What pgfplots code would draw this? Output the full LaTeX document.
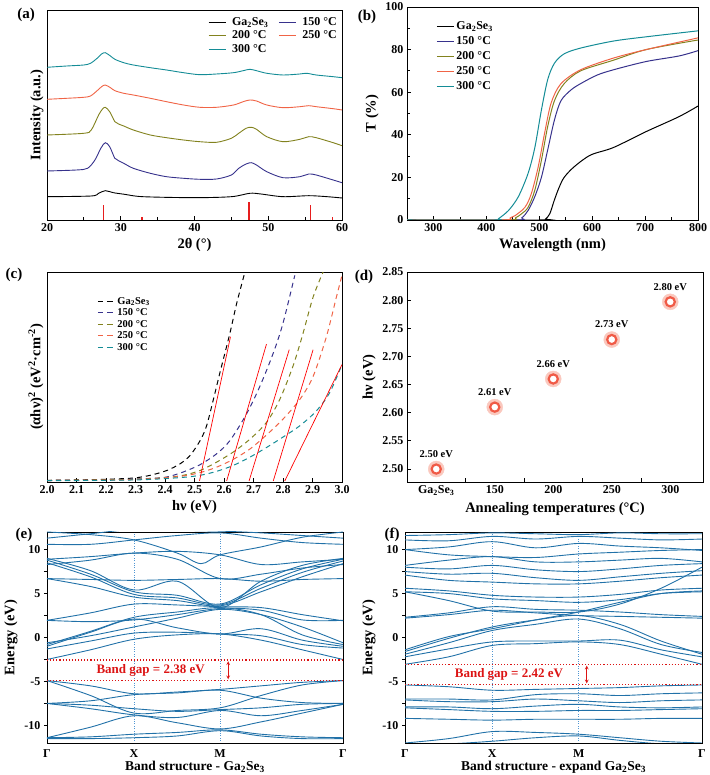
\documentclass[border=0pt]{standalone}
\usepackage{fontspec}
\setmainfont{Liberation Serif}
\usepackage{pgfplots}
\pgfplotsset{compat=1.18}

\definecolor{cnavy}{RGB}{55,50,140}
\definecolor{colive}{RGB}{130,130,30}
\definecolor{corange}{RGB}{240,100,70}
\definecolor{cteal}{RGB}{20,140,150}
\definecolor{cstick}{RGB}{230,30,30}
\definecolor{bandblue}{RGB}{33,113,168}
\definecolor{kline}{RGB}{80,150,210}
\definecolor{gapred}{RGB}{220,20,20}
\definecolor{ringred}{RGB}{240,90,70}
\definecolor{halo}{RGB}{250,200,190}

\pgfplotsset{
  base/.style={
    scale only axis, anchor=south west,
    axis line style={line width=0.9pt},
    every tick/.style={black, line width=0.8pt},
    tick align=inside, xtick pos=bottom, ytick pos=left,
    major tick length=4pt, minor tick length=2.5pt,
    tick label style={font=\bfseries\fontsize{12}{14}\selectfont},
    label style={font=\bfseries\fontsize{14.5}{16}\selectfont},
    /pgf/number format/assume math mode=true,
    legend style={draw=none, fill=none, font=\bfseries\fontsize{12}{14}\selectfont},
    legend cell align=left,
  },
  xrd/.style={line width=0.9pt, smooth, no marks},
  tr/.style={line width=1pt, smooth, no marks},
  tauc/.style={line width=1pt, smooth, no marks, dash pattern=on 5pt off 4pt},
  tang/.style={line width=0.7pt, red, no marks},
  band/.style={line width=0.9pt, bandblue, smooth, tension=0.55, no marks},
  bandaxis/.style={
    base, xmin=0, xmax=1, ymin=-12, ymax=12,
    xtick={0,0.294,0.585,1}, xticklabels={Γ,X,M,Γ},
    major x tick style={draw=none},
    xmajorgrids, major grid style={dotted, kline, line width=0.9pt},
    ytick={-10,-5,0,5,10}, minor y tick num=1, tick align=outside,
    minor tick length=3pt, major tick length=3pt,
    ylabel={Energy (eV)}, clip=true,
    xlabel style={yshift=3pt, font=\bfseries\fontsize{13.5}{15}\selectfont},
  },
}

\begin{document}
\begin{tikzpicture}
\useasboundingbox (0pt,0pt) rectangle (709pt,775pt);

% (a) XRD
\begin{axis}[base, at={(47pt,555pt)}, width=295pt, height=210pt,
  xmin=20, xmax=60, ymin=0, ymax=210,
  xtick={20,30,40,50,60}, minor xtick={25,35,45,55}, ytick=\empty,
  xlabel={2θ (°)}, ylabel={Intensity (a.u.)},
  legend columns=2,
  legend style={at={(1.0,0.985)}, anchor=north east, /tikz/column sep=4pt, /tikz/every even column/.append style={column sep=8pt}}]
\addplot[xrd, black] coordinates {(20,23.3) (26,24) (27,26.7) (27.9,29.3) (29,27.3) (30.5,25.7) (33,23.3) (40,22.3) (45,23.3) (47.5,26.7) (49,26) (52,23.3) (55.5,24.3) (58,23.3) (60,22)};
\addlegendentry{Ga\textsubscript{2}Se\textsubscript{3}}
\addplot[xrd, cnavy] coordinates {(20,49) (24,50) (25.5,51.7) (26.5,60) (27.3,71.7) (27.9,77.3) (28.5,73.3) (29.2,61.7) (29.7,59.3) (30.4,56.7) (31.7,51.7) (34,46.7) (36.2,43.3) (38.5,41.7) (40.7,40.7) (43,41) (45,45) (46,51.7) (47,56) (47.7,57.3) (48.4,55) (49.8,48.3) (52,42.3) (54.3,43.3) (55.5,46) (56.5,45) (58.8,40) (60,37.3)};
\addlegendentry{150~°C}
\addplot[xrd, colive] coordinates {(20,85) (25,86.7) (26,90) (27,105) (27.5,110.7) (27.9,112.7) (28.5,108.3) (29.2,98.3) (29.7,96) (30.4,94) (31.7,90) (34,85) (36.2,82.3) (38.5,80) (40.7,78.3) (43,77.7) (45,81.7) (46,86.7) (47,91.7) (47.7,92.7) (48.4,90.7) (49.8,83.3) (52,78.3) (54.3,80.7) (55.5,83.3) (56.5,82.3) (58.8,77.3) (60,74.3)};
\addlegendentry{200~°C}
\addplot[xrd, corange] coordinates {(20,120.7) (22.7,121.7) (25,122.7) (25.9,124) (26.8,129.3) (27.4,133.3) (27.9,135) (28.6,132.3) (29.2,129.3) (30.4,126.7) (31.7,125) (34,121.7) (36.2,118.3) (38.5,115) (40.7,112.7) (43,112.7) (45.3,115) (46.6,118.3) (47.5,120) (48.4,119) (49.8,115) (52,112.3) (54.3,113.3) (55.5,114.3) (56.5,113.3) (58.8,111.3) (60,110)};
\addlegendentry{250~°C}
\addplot[xrd, cteal] coordinates {(20,152.7) (22.7,154) (25,155) (25.9,156.7) (26.8,161.7) (27.4,166) (27.9,167.3) (28.6,164) (29.2,160.7) (30.4,157.3) (31.7,155) (34,152.3) (36.2,150) (38.5,147.3) (40.7,145.3) (43,146) (45.3,147.3) (46.6,149.3) (47.5,150.7) (48.4,149.3) (49.8,146.7) (52,145) (54.3,146) (55.2,146.7) (56.5,145) (58.8,143.3) (60,142.3)};
\addlegendentry{300~°C}
\addplot[ycomb, cstick, line width=1.3pt, no marks, forget plot] coordinates {(27.7,15) (32.9,2.5) (47.4,18) (55.7,15) (58.7,2.5)};
\end{axis}

% (b) transmittance
\begin{axis}[base, at={(407pt,555pt)}, width=291pt, height=213pt,
  xmin=250, xmax=800, ymin=0, ymax=100,
  xtick={300,400,...,800}, minor x tick num=1,
  ytick={0,20,...,100}, minor y tick num=1,
  xlabel={Wavelength (nm)}, ylabel={T (\%)},
  legend style={at={(0.09,0.95)}, anchor=north west, row sep=1.5pt}]
\addplot[tr, black] coordinates {(250,0) (505,0) (512,0.5) (520,3) (528,9) (537,15) (547,20) (566,25) (597,30.5) (640,34) (702,41.5) (764,48.5) (800,53.5)};
\addlegendentry{Ga\textsubscript{2}Se\textsubscript{3}}
\addplot[tr, cnavy] coordinates {(250,0) (455,0) (467,1) (479,4.5) (491.6,11) (504,20) (516,33) (528.7,47) (541,56) (559.7,61) (578,64) (609,68) (640,70.5) (702,74.4) (764,77) (800,79.5)};
\addlegendentry{150~°C}
\addplot[tr, colive] coordinates {(250,0) (440,0) (455,1) (467,3) (479,6) (491.6,14) (504,28) (516,44) (528.7,56) (547,64) (578,70) (640,75) (702,80) (800,84.5)};
\addlegendentry{200~°C}
\addplot[tr, corange] coordinates {(250,0) (430,0) (445,1) (454,2) (473,6) (485,12.4) (498,25) (510,40.7) (522.5,55) (541,64) (578,70.5) (640,76) (702,80) (800,85.5)};
\addlegendentry{250~°C}
\addplot[tr, cteal] coordinates {(250,0) (418,0) (423,0.6) (442,4.5) (460.6,11) (479,22) (491.6,34) (504,51.6) (516,66) (528.7,73.6) (547,78) (578,80.7) (640,84) (702,86) (800,88.8)};
\addlegendentry{300~°C}
\end{axis}

% (c) Tauc plot
\begin{axis}[base, at={(47pt,293pt)}, width=295pt, height=210pt,
  xmin=2.0, xmax=3.0, ymin=-0.5, ymax=100,
  xtick={2.0,2.1,2.2,2.3,2.4,2.5,2.6,2.7,2.8,2.9,3.0}, ytick=\empty,
  x tick label style={/pgf/number format/.cd, fixed, fixed zerofill, precision=1},
  xlabel={hν (eV)}, ylabel={(αhν)\textsuperscript{2} (eV\textsuperscript{2}·cm\textsuperscript{-2})},
  legend style={at={(0.16,0.9)}, anchor=north west, font=\bfseries\fontsize{10.5}{11}\selectfont, row sep=-1pt}]
\addplot[tauc, black] coordinates {(2.0,0.3) (2.1,0.5) (2.2,0.8) (2.293,1.4) (2.35,2.7) (2.406,5) (2.451,8.2) (2.485,12.2) (2.519,19.3) (2.541,26.4) (2.564,39) (2.586,51.7) (2.62,70.7) (2.643,85) (2.671,100)};
\addlegendentry{Ga\textsubscript{2}Se\textsubscript{3}}
\addplot[tauc, cnavy] coordinates {(2.0,0.2) (2.2,0.5) (2.35,1.2) (2.406,1.9) (2.462,4.3) (2.519,7.8) (2.575,13) (2.62,19.3) (2.676,32) (2.722,45.4) (2.767,61.2) (2.8,75.5) (2.84,98.4)};
\addlegendentry{150~°C}
\addplot[tauc, colive] coordinates {(2.0,0.2) (2.3,0.8) (2.4,1.6) (2.462,2.7) (2.519,5) (2.575,9) (2.631,13.8) (2.688,20) (2.744,28) (2.789,39) (2.834,55) (2.868,70.7) (2.902,88) (2.936,100)};
\addlegendentry{200~°C}
\addplot[tauc, corange] coordinates {(2.0,0.2) (2.3,0.7) (2.45,2.2) (2.519,4) (2.575,6.6) (2.631,10.3) (2.688,15.3) (2.744,22) (2.8,29.6) (2.857,39) (2.902,50) (2.947,69) (2.981,88) (3.0,98.4)};
\addlegendentry{250~°C}
\addplot[tauc, cteal] coordinates {(2.0,0.1) (2.3,0.5) (2.45,1.6) (2.519,2.7) (2.575,4.6) (2.631,7.4) (2.688,11.4) (2.744,16) (2.8,21) (2.857,26.4) (2.913,33.5) (2.958,42.2) (3.0,55.7)};
\addlegendentry{300~°C}
\addplot[tang] coordinates {(2.517,0) (2.622,69)};
\addplot[tang] coordinates {(2.609,0) (2.744,65.5)};
\addplot[tang] coordinates {(2.685,0) (2.821,62.8)};
\addplot[tang] coordinates {(2.767,0) (2.902,62.8)};
\addplot[tang] coordinates {(2.806,0) (3.0,55.7)};
\end{axis}

% (d) band gap vs temperature
\begin{axis}[base, at={(407pt,293pt)}, width=296pt, height=210pt,
  xmin=-0.5, xmax=4.56, ymin=2.477, ymax=2.85,
  xtick={0,1,2,3,4}, xticklabels={Ga\textsubscript{2}Se\textsubscript{3},150,200,250,300},
  major x tick style={draw=none}, minor xtick={0.5,1.5,2.5,3.5}, minor tick length=4pt,
  ytick={2.50,2.55,2.60,2.65,2.70,2.75,2.80,2.85},
  y tick label style={/pgf/number format/.cd, fixed, fixed zerofill, precision=2},
  xlabel={Annealing temperatures (°C)}, ylabel={hν (eV)}]
\addplot[only marks, mark=*, mark size=8pt, color=halo] coordinates {(0,2.50) (1,2.61) (2,2.66) (3,2.73) (4,2.797)};
\addplot[only marks, mark=*, mark size=4.6pt, mark options={draw=ringred, fill=white, line width=2.2pt},
  point meta=explicit symbolic, nodes near coords,
  every node near coord/.append style={anchor=center, yshift=15pt, font=\bfseries\fontsize{10.5}{12}\selectfont, black}]
  coordinates {(0,2.50) [2.50 eV] (1,2.61) [2.61 eV] (2,2.66) [2.66 eV] (3,2.73) [2.73 eV] (4,2.797) [2.80 eV]};
\end{axis}

% (e) band structure Ga2Se3
\begin{axis}[bandaxis, at={(47pt,32pt)}, width=296pt, height=211pt,
  xlabel={Band structure - Ga\textsubscript{2}Se\textsubscript{3}}]
\addplot[band] coordinates {(0,-4.9) (0.147,-5.5) (0.294,-6.4) (0.44,-6.2) (0.585,-5.9) (0.723,-5.5) (0.862,-5.1) (1,-4.9)};
\addplot[band] coordinates {(0,-4.9) (0.147,-6.6) (0.294,-8.6) (0.44,-8.3) (0.585,-8.0) (0.723,-6.6) (0.862,-5.4) (1,-4.9)};
\addplot[band] coordinates {(0,-7.5) (0.147,-7.2) (0.294,-6.5) (0.44,-6.3) (0.585,-6.0) (0.723,-6.9) (0.862,-7.4) (1,-7.5)};
\addplot[band] coordinates {(0,-7.5) (0.147,-7.7) (0.294,-8.1) (0.44,-8.4) (0.585,-8.2) (0.723,-8.0) (0.862,-7.6) (1,-7.5)};
\addplot[band] coordinates {(0,-7.5) (0.147,-8.1) (0.294,-8.8) (0.44,-9.1) (0.585,-8.3) (0.723,-8.9) (0.862,-8.3) (1,-7.6)};
\addplot[band] coordinates {(0,-11.4) (0.147,-10.2) (0.294,-8.9) (0.44,-9.7) (0.585,-10.4) (0.723,-9.6) (0.862,-8.6) (1,-7.6)};
\addplot[band] coordinates {(0,-11.4) (0.147,-11.3) (0.294,-11.0) (0.44,-10.8) (0.585,-10.5) (0.723,-11.0) (0.862,-11.3) (1,-11.4)};
\addplot[band] coordinates {(0,-11.5) (0.147,-11.5) (0.294,-11.4) (0.44,-11.2) (0.585,-10.6) (0.723,-11.2) (0.862,-11.5) (1,-11.5)};
\addplot[band] coordinates {(0,-2.5) (0.147,-1.4) (0.294,-0.2) (0.44,0.3) (0.585,0.4) (0.723,-0.3) (0.862,-1.4) (1,-2.5)};
\addplot[band] coordinates {(0,-1.3) (0.147,-0.4) (0.294,0.5) (0.44,0.6) (0.585,0.4) (0.723,0.2) (0.862,-0.8) (1,-1.2)};
\addplot[band] coordinates {(0,-1.0) (0.147,0.6) (0.294,2.1) (0.44,1.1) (0.585,0.4) (0.723,1.0) (0.862,-0.3) (1,-1.0)};
\addplot[band] coordinates {(0,-0.8) (0.147,0.7) (0.294,2.3) (0.44,2.9) (0.585,3.4) (0.723,2.6) (0.862,0.3) (1,-0.8)};
\addplot[band] coordinates {(0,1.95) (0.147,1.8) (0.294,2.0) (0.44,2.6) (0.585,3.3) (0.723,3.1) (0.862,2.0) (1,1.95)};
\addplot[band] coordinates {(0,1.95) (0.147,2.8) (0.294,3.8) (0.44,3.7) (0.585,3.5) (0.723,3.4) (0.862,2.6) (1,1.9)};
\addplot[band] coordinates {(0,-0.6) (0.147,0.2) (0.294,1.2) (0.44,2.2) (0.585,3.2) (0.723,2.6) (0.862,1.2) (1,-0.6)};
\addplot[band] coordinates {(0,6.7) (0.147,5.8) (0.294,4.6) (0.44,4.2) (0.585,3.6) (0.723,5.2) (0.862,6.9) (1,8.4)};
\addplot[band] coordinates {(0,8.5) (0.147,6.9) (0.294,4.9) (0.44,4.5) (0.585,3.7) (0.723,5.6) (0.862,7.4) (1,8.7)};
\addplot[band] coordinates {(0,8.8) (0.147,7.2) (0.294,5.2) (0.44,4.8) (0.585,3.8) (0.723,6.0) (0.862,7.8) (1,8.9)};
\addplot[band] coordinates {(0,9.0) (0.147,7.6) (0.294,5.4) (0.44,6.4) (0.585,3.4) (0.723,6.4) (0.862,8.2) (1,9.0)};
\addplot[band] coordinates {(0,6.7) (0.147,6.6) (0.294,6.5) (0.44,6.6) (0.585,6.7) (0.723,6.4) (0.862,6.6) (1,6.7)};
\addplot[band] coordinates {(0,8.3) (0.147,8.8) (0.294,9.6) (0.44,8.9) (0.585,6.7) (0.723,7.2) (0.862,7.9) (1,8.3)};
\addplot[band] coordinates {(0,8.9) (0.147,9.2) (0.294,9.6) (0.44,9.8) (0.585,9.4) (0.723,8.3) (0.862,8.6) (1,8.9)};
\addplot[band] coordinates {(0,10.6) (0.147,10.6) (0.294,11.1) (0.44,11.6) (0.585,11.9) (0.723,11.3) (0.862,10.8) (1,10.6)};
\addplot[band] coordinates {(0,12.0) (0.147,11.7) (0.294,11.1) (0.44,9.6) (0.52,8.4) (0.585,9.4) (0.723,10.3) (0.862,11.4) (1,12.0)};
\addplot[band] coordinates {(0,11.3) (0.147,11.8) (0.294,12.3) (0.44,12.2) (0.585,12.1) (0.723,11.9) (0.862,11.6) (1,11.3)};
\addplot[gapred, dotted, line width=1.1pt] coordinates {(0,-2.56) (1,-2.56)};
\addplot[gapred, dotted, line width=1.1pt] coordinates {(0,-4.9) (1,-4.9)};
\draw[gapred, <->, >=stealth, line width=0.7pt] (axis cs:0.612,-2.7) -- (axis cs:0.612,-4.75);
\node[gapred, font=\bfseries\fontsize{13}{15}\selectfont] at (axis cs:0.35,-3.73) {Band gap = 2.38 eV};
\end{axis}

% (f) band structure expanded Ga2Se3
\begin{axis}[bandaxis, at={(405pt,32pt)}, width=297pt, height=211pt,
  xlabel={Band structure - expand Ga\textsubscript{2}Se\textsubscript{3}}]
\addplot[band] coordinates {(0,-5.4) (0.147,-5.6) (0.294,-6.0) (0.44,-5.9) (0.585,-5.8) (0.723,-5.7) (0.862,-5.5) (1,-5.4)};
\addplot[band] coordinates {(0,-7.0) (0.147,-7.0) (0.294,-7.1) (0.44,-6.5) (0.585,-6.4) (0.723,-6.6) (0.862,-6.4) (1,-6.3)};
\addplot[band] coordinates {(0,-7.1) (0.147,-7.3) (0.294,-7.3) (0.44,-7.0) (0.585,-7.2) (0.723,-7.4) (0.862,-7.2) (1,-7.1)};
\addplot[band] coordinates {(0,-7.9) (0.147,-7.9) (0.294,-8.1) (0.44,-7.8) (0.585,-7.6) (0.723,-7.9) (0.862,-8.0) (1,-7.9)};
\addplot[band] coordinates {(0,-8.0) (0.147,-8.2) (0.294,-8.4) (0.44,-8.4) (0.585,-8.3) (0.723,-8.3) (0.862,-8.2) (1,-8.1)};
\addplot[band] coordinates {(0,-9.2) (0.147,-9.3) (0.294,-9.4) (0.44,-9.3) (0.585,-9.3) (0.723,-9.3) (0.862,-9.2) (1,-9.2)};
\addplot[band] coordinates {(0,-12.0) (0.147,-11.5) (0.294,-10.7) (0.44,-10.8) (0.585,-11.0) (0.723,-11.4) (0.862,-11.8) (1,-12.0)};
\addplot[band] coordinates {(0,-12.2) (0.147,-12.1) (0.294,-11.8) (0.44,-11.4) (0.585,-11.2) (0.723,-11.7) (0.862,-12.1) (1,-12.2)};
\addplot[band] coordinates {(0,-3.05) (0.147,-2.2) (0.294,-0.9) (0.44,-0.7) (0.585,-0.5) (0.723,-0.8) (0.862,-1.9) (1,-3.05)};
\addplot[band] coordinates {(0,-2.2) (0.147,-1.3) (0.294,-0.5) (0.44,-0.4) (0.585,-0.4) (0.723,-0.3) (0.862,-1.4) (1,-2.2)};
\addplot[band] coordinates {(0,-1.9) (0.147,-0.6) (0.294,0.8) (0.44,1.5) (0.585,2.1) (0.723,1.0) (0.862,-0.8) (1,-1.7)};
\addplot[band] coordinates {(0,-1.6) (0.147,-0.1) (0.294,1.2) (0.44,2.0) (0.585,2.5) (0.723,1.5) (0.862,-0.4) (1,-1.9)};
\addplot[band] coordinates {(0,-1.4) (0.147,0.1) (0.294,1.0) (0.44,2.0) (0.585,2.9) (0.723,4.0) (0.862,5.0) (1,5.3)};
\addplot[band] coordinates {(0,2.2) (0.147,2.6) (0.294,3.1) (0.44,2.8) (0.585,2.5) (0.723,2.4) (0.862,2.3) (1,2.2)};
\addplot[band] coordinates {(0,2.3) (0.147,2.8) (0.294,3.5) (0.44,3.2) (0.585,3.1) (0.723,2.9) (0.862,2.6) (1,2.4)};
\addplot[band] coordinates {(0,5.2) (0.147,4.2) (0.294,3.0) (0.44,2.9) (0.585,2.9) (0.723,3.8) (0.862,5.6) (1,8.0)};
\addplot[band] coordinates {(0,5.2) (0.147,5.0) (0.294,4.4) (0.44,4.2) (0.585,4.0) (0.723,4.3) (0.862,5.0) (1,5.2)};
\addplot[band] coordinates {(0,5.6) (0.147,5.3) (0.294,4.8) (0.44,4.6) (0.585,4.6) (0.723,4.9) (0.862,5.4) (1,5.6)};
\addplot[band] coordinates {(0,7.1) (0.147,6.5) (0.294,6.3) (0.44,6.1) (0.585,6.1) (0.723,6.4) (0.862,6.8) (1,7.1)};
\addplot[band] coordinates {(0,7.5) (0.147,7.2) (0.294,7.3) (0.44,6.8) (0.585,6.5) (0.723,6.9) (0.862,7.3) (1,7.6)};
\addplot[band] coordinates {(0,8.0) (0.147,7.8) (0.294,8.2) (0.44,7.7) (0.585,7.5) (0.723,7.8) (0.862,8.2) (1,8.4)};
\addplot[band] coordinates {(0,8.2) (0.147,8.8) (0.294,9.2) (0.44,8.6) (0.585,8.6) (0.723,8.8) (0.862,9.0) (1,8.6)};
\addplot[band] coordinates {(0,10.0) (0.147,9.4) (0.294,9.2) (0.44,9.1) (0.585,9.5) (0.723,9.7) (0.862,9.9) (1,10.0)};
\addplot[band] coordinates {(0,10.0) (0.147,10.3) (0.294,10.9) (0.44,10.2) (0.585,10.7) (0.723,10.4) (0.862,10.2) (1,9.9)};
\addplot[band] coordinates {(0,11.1) (0.147,11.0) (0.294,11.5) (0.44,11.2) (0.585,11.5) (0.723,11.3) (0.862,11.1) (1,11.2)};
\addplot[band] coordinates {(0,11.6) (0.147,11.7) (0.294,11.9) (0.44,11.8) (0.585,11.7) (0.723,11.9) (0.862,11.8) (1,11.8)};
\addplot[gapred, dotted, line width=1.1pt] coordinates {(0,-3.05) (1,-3.05)};
\addplot[gapred, dotted, line width=1.1pt] coordinates {(0,-5.37) (1,-5.37)};
\draw[gapred, <->, >=stealth, line width=0.7pt] (axis cs:0.612,-3.2) -- (axis cs:0.612,-5.22);
\node[gapred, font=\bfseries\fontsize{13}{15}\selectfont] at (axis cs:0.35,-4.2) {Band gap = 2.42 eV};
\end{axis}

% panel letters
\node[font=\bfseries\fontsize{15}{17}\selectfont] at (26pt,760pt) {(a)};
\node[font=\bfseries\fontsize{15}{17}\selectfont] at (367pt,758pt) {(b)};
\node[font=\bfseries\fontsize{15}{17}\selectfont] at (14pt,500pt) {(c)};
\node[font=\bfseries\fontsize{15}{17}\selectfont] at (364pt,498pt) {(d)};
\node[font=\bfseries\fontsize{15}{17}\selectfont] at (24pt,240pt) {(e)};
\node[font=\bfseries\fontsize{15}{17}\selectfont] at (392pt,240pt) {(f)};
\end{tikzpicture}
\end{document}
